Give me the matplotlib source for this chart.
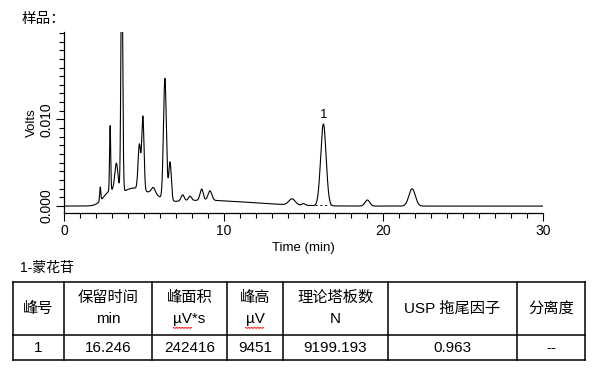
import matplotlib
matplotlib.use('Agg')
import matplotlib.pyplot as plt
from matplotlib.ticker import MultipleLocator
import numpy as np

plt.rcParams['font.family'] = ['Liberation Sans', 'Noto Sans CJK SC', 'DejaVu Sans']

# peaks: retention time (min), height (V), width sigma (min)
peak_t = [2.9, 4.3, 5.6, 8.0, 11.0,
          2.27, 2.89, 3.28, 3.62, 4.72, 4.94, 5.59, 6.32, 6.64,
          7.43, 7.89, 8.62, 9.14, 14.28, 15.0, 16.246, 19.0, 21.8]
peak_h = [0.0015, 0.0019, 0.0008, 0.0005, 0.0003,
          0.0016, 0.0075, 0.0032, 0.0280, 0.0052, 0.0085, 0.0007, 0.0140, 0.0045,
          0.0007, 0.0005, 0.0013, 0.0011, 0.0007, 0.0002, 0.00945, 0.0007, 0.0020]
peak_s = [0.45, 0.7, 0.5, 2.2, 2.5,
          0.035, 0.035, 0.10, 0.055, 0.08, 0.07, 0.12, 0.09, 0.08,
          0.10, 0.10, 0.10, 0.12, 0.20, 0.10, 0.17, 0.15, 0.20]

label_t = 16.246
label_h = 0.00945

# table
table_title = '1-蒙花苷'
col_head = ['峰号', '保留时间', '峰面积', '峰高', '理论塔板数', 'USP 拖尾因子', '分离度']
col_unit = ['', 'min', 'µV*s', 'µV', 'N', '', '']
row_vals = ['1', '16.246', '242416', '9451', '9199.193', '0.963', '--']

t = np.linspace(0, 30, 6001)
v = np.zeros_like(t)
for pt, ph, ps in zip(peak_t, peak_h, peak_s):
    v += ph * np.exp(-0.5 * ((t - pt) / ps) ** 2)

fig = plt.figure(figsize=(5.96, 3.69), dpi=100)
ax = fig.add_axes([64 / 596, 1 - 213 / 369, 479 / 596, 181 / 369])
ax.plot(t, v, color='black', lw=0.8)
ax.plot([15.75, 16.65], [0.0001, 0.0001], color='black', lw=0.7, ls=(0, (2, 3)))
ax.text(label_t, label_h + 0.0004, '1', ha='center', va='bottom', fontsize=9.5)

ax.set_xlim(0, 30)
ax.set_ylim(-0.0008, 0.0201)
ax.xaxis.set_major_locator(MultipleLocator(10))
ax.xaxis.set_minor_locator(MultipleLocator(1))
ax.yaxis.set_minor_locator(MultipleLocator(0.001))
ax.set_yticks([0.0, 0.010])
ax.set_yticklabels(['0.000', '0.010'])
ax.tick_params(which='major', length=5.5, width=0.8, labelsize=10, pad=2.5)
ax.tick_params(which='minor', length=3.3, width=0.8)
ax.tick_params(axis='y', which='major', pad=2)
for lab in ax.get_yticklabels():
    lab.set_rotation(90)
    lab.set_va('center')
for s in ['top', 'right']:
    ax.spines[s].set_visible(False)
for s in ['left', 'bottom']:
    ax.spines[s].set_linewidth(0.9)
ax.set_xlabel('Time (min)', fontsize=9.5, labelpad=3)
ax.set_ylabel('Volts', fontsize=9.5, labelpad=1)

fig.text(22 / 596, 1 - 19 / 369, '样品：', fontsize=10.5, va='center', ha='left')

# table drawn in pixel coordinates
tab = fig.add_axes([0, 0, 1, 1])
tab.set_xlim(0, 596)
tab.set_ylim(369, 0)
tab.axis('off')
col_x = [13, 64, 152, 227, 283, 388, 517, 585]
row_y = [282, 335, 360]
tab.text(20, 268, table_title, fontsize=10, va='center', ha='left')
for x in col_x:
    tab.plot([x, x], [row_y[0], row_y[2]], color='black', lw=1.1)
for y in row_y:
    tab.plot([col_x[0], col_x[-1]], [y, y], color='black', lw=1.1)
unit_txt = {}
for i in range(len(col_head)):
    cx = (col_x[i] + col_x[i + 1]) / 2
    if col_unit[i]:
        tab.text(cx, 298, col_head[i], fontsize=11, ha='center', va='center')
        unit_txt[col_unit[i]] = tab.text(cx, 319, col_unit[i], fontsize=11,
                                         ha='center', va='center')
    else:
        tab.text(cx, 309, col_head[i], fontsize=11, ha='center', va='center')
    tab.text(cx, 348, row_vals[i], fontsize=11, ha='center', va='center')

# red wavy spell-check underline under µV
fig.canvas.draw()
inv = tab.transData.inverted()
for key, frac in [('µV*s', 0.6), ('µV', 1.0)]:
    bb = unit_txt[key].get_window_extent()
    (x0, _), (x1, _) = inv.transform([[bb.x0, bb.y0], [bb.x1, bb.y0]])
    x1 = x0 + (x1 - x0) * frac
    zx = np.arange(x0, x1 + 0.1, 1.5)
    zy = 327.5 + 0.8 * (np.arange(len(zx)) % 2)
    tab.plot(zx, zy, color='red', lw=0.7)

fig.savefig('out.png', dpi=100)
